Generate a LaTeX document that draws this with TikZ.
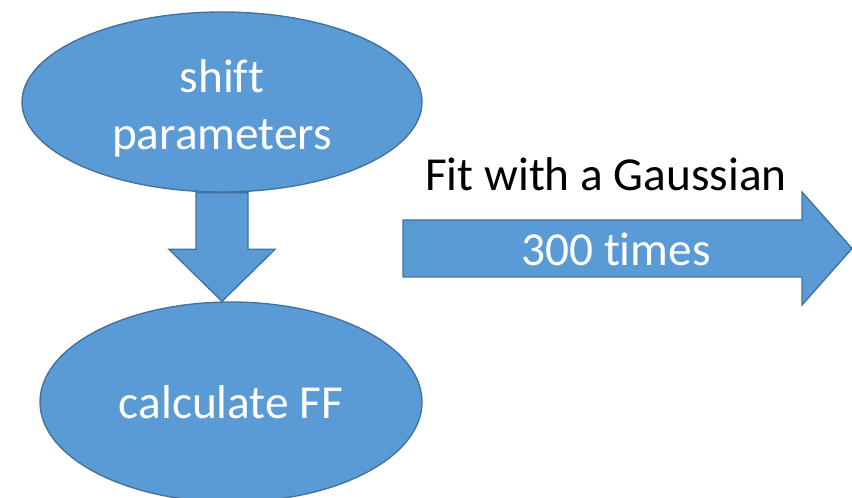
\documentclass[tikz,border=0pt]{standalone}
\usepackage{fontspec}
\setmainfont{Carlito}[Ligatures=CommonOff]
\usepackage{xcolor}
\usetikzlibrary{shapes.geometric,calc}
\definecolor{FFBlue}{HTML}{5B9BD5}
\definecolor{FFEdge}{HTML}{41719C}
\tikzset{
  blob/.style={ellipse,fill=FFBlue,draw=FFEdge,line width=1pt,inner sep=0pt,
    text=white,align=center,font=\fontsize{35.5}{42.75}\selectfont},
  blockarr/.style={fill=FFBlue,draw=FFEdge,line width=1pt,line join=miter},
  caption/.style={font=\fontsize{35.5}{42.75}\selectfont,align=center},
}

\begin{document}
\begin{tikzpicture}[x=0.75pt,y=-0.75pt]
\path[use as bounding box] (0,0) rectangle (852,498);
\clip (0,0) rectangle (852,498);
\node[blob,minimum width=300pt,minimum height=135pt] (shift) at (222,102) {};
\node[caption,text=white] (shifttxt) at ($(shift)+(0,6)$) {shift\\parameters};
\node[blob,minimum width=286.5pt,minimum height=150pt] (calc) at (231,402) {calculate FF};
% down arrow between the two steps
\coordinate (tip) at (shift.south |- calc.north);
\draw[blockarr] ($(shift.south)+(-26,0)$) -- ($(shift.south)+(26,0)$) -- ($(tip)+(26,-52)$)
  -- ($(tip)+(53,-52)$) -- (tip) -- ($(tip)+(-53,-52)$) -- ($(tip)+(-26,-52)$) -- cycle;
% fit arrow
\coordinate (tail) at (403,248.5);
\coordinate (head) at (852,248.5);
\draw[blockarr] ($(tail)+(0,-28.5)$) -- ($(head)+(-50,-28.5)$) -- ($(head)+(-50,-56.5)$) -- (head)
  -- ($(head)+(-50,56.5)$) -- ($(head)+(-50,28.5)$) -- ($(tail)+(0,28.5)$) -- cycle;
\node[caption,text=white] (times) at (616,249.5) {300 times};
\node[caption,anchor=base] (fit) at (606,191) {Fit with a Gaussian};
\end{tikzpicture}
\end{document}
